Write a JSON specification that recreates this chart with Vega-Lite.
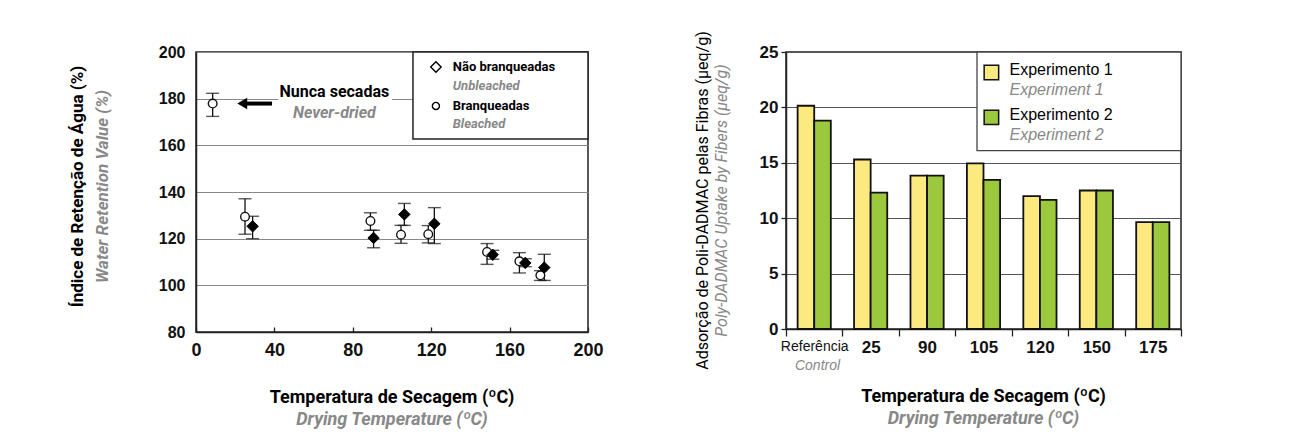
{
  "$schema": "https://vega.github.io/schema/vega-lite/v6.json",
  "padding": {"left": 68, "top": 31, "right": 5, "bottom": 5},
  "background": "white",
  "spacing": 91,
  "config": {
    "view": {"stroke": "#222", "strokeWidth": 1.5},
    "axis": {"domainColor": "#222", "domainWidth": 1.5, "tickColor": "#222", "tickWidth": 1.3, "labelFont": "Liberation Sans", "labelFontWeight": "bold", "labelColor": "#111", "gridColor": "#888", "gridWidth": 1.2},
    "text": {"font": "Roboto"}
  },
  "datasets": {
    "wrv": [
      {"tipo": "Branqueadas", "temp": 8.5, "value": 177.9, "lo": 172.4, "hi": 182.3},
      {"tipo": "Branqueadas", "temp": 25, "value": 129.4, "lo": 121.9, "hi": 137.1},
      {"tipo": "Branqueadas", "temp": 89, "value": 127.6, "lo": 123.6, "hi": 131.1},
      {"tipo": "Branqueadas", "temp": 104.6, "value": 121.7, "lo": 118.0, "hi": 125.7},
      {"tipo": "Branqueadas", "temp": 118.5, "value": 121.9, "lo": 118.2, "hi": 125.6},
      {"tipo": "Branqueadas", "temp": 148.5, "value": 114.3, "lo": 109.0, "hi": 117.9},
      {"tipo": "Branqueadas", "temp": 165, "value": 110.3, "lo": 105.3, "hi": 114.0},
      {"tipo": "Branqueadas", "temp": 175.7, "value": 104.3, "lo": 102.1, "hi": 106.3},
      {"tipo": "Não branqueadas", "temp": 28.9, "value": 125.3, "lo": 120.0, "hi": 129.6},
      {"tipo": "Não branqueadas", "temp": 90.6, "value": 120.3, "lo": 116.1, "hi": 123.6},
      {"tipo": "Não branqueadas", "temp": 106.3, "value": 130.4, "lo": 125.7, "hi": 135.1},
      {"tipo": "Não branqueadas", "temp": 121.6, "value": 126.4, "lo": 117.9, "hi": 133.3},
      {"tipo": "Não branqueadas", "temp": 151.4, "value": 113.1, "lo": 111.2, "hi": 115.0},
      {"tipo": "Não branqueadas", "temp": 168, "value": 109.6, "lo": 108.0, "hi": 111.4},
      {"tipo": "Não branqueadas", "temp": 177.7, "value": 107.6, "lo": 102.1, "hi": 113.3}
    ],
    "pdadmac": [
      {"temp": "Referência", "exp": "Experimento 1", "value": 20.15},
      {"temp": "Referência", "exp": "Experimento 2", "value": 18.8},
      {"temp": "25", "exp": "Experimento 1", "value": 15.3},
      {"temp": "25", "exp": "Experimento 2", "value": 12.3},
      {"temp": "90", "exp": "Experimento 1", "value": 13.85},
      {"temp": "90", "exp": "Experimento 2", "value": 13.85},
      {"temp": "105", "exp": "Experimento 1", "value": 14.95},
      {"temp": "105", "exp": "Experimento 2", "value": 13.45},
      {"temp": "120", "exp": "Experimento 1", "value": 12.0},
      {"temp": "120", "exp": "Experimento 2", "value": 11.65},
      {"temp": "150", "exp": "Experimento 1", "value": 12.5},
      {"temp": "150", "exp": "Experimento 2", "value": 12.5},
      {"temp": "175", "exp": "Experimento 1", "value": 9.65},
      {"temp": "175", "exp": "Experimento 2", "value": 9.65}
    ]
  },
  "hconcat": [
    {
      "title": {"text": "Índice de Retenção de Água (%)", "subtitle": "Water Retention Value (%)", "orient": "left", "anchor": "middle", "frame": "bounds", "dx": 50, "font": "Roboto", "fontSize": 17, "fontWeight": "bold", "color": "#000", "subtitleFont": "Roboto", "subtitleFontSize": 17, "subtitleFontWeight": "bold", "subtitleFontStyle": "italic", "subtitleColor": "#888", "subtitlePadding": 8, "offset": 46},
      "vconcat": [
        {
          "title": {"text": "Temperatura de Secagem (ºC)", "subtitle": "Drying Temperature (ºC)", "orient": "bottom", "anchor": "middle", "frame": "group", "font": "Roboto", "fontSize": 18, "fontWeight": "bold", "color": "#000", "subtitleFont": "Roboto", "subtitleFontSize": 18, "subtitleFontWeight": "bold", "subtitleFontStyle": "italic", "subtitleColor": "#888", "subtitlePadding": 4, "offset": 30},
          "width": 392,
          "height": 280,
          "layer": [
            {
              "data": {"values": [{}]},
              "mark": {"type": "rect", "fill": "white"},
              "encoding": {
                "x": {"datum": 42, "type": "quantitative"}, "x2": {"datum": 100},
                "y": {"datum": 186, "type": "quantitative"}, "y2": {"datum": 170}
              }
            },
            {
              "data": {"values": [{}]},
              "mark": {"type": "rect", "fill": "white", "stroke": "#222", "strokeWidth": 1.5},
              "encoding": {
                "x": {"datum": 110.7, "type": "quantitative"}, "x2": {"datum": 200},
                "y": {"datum": 200, "type": "quantitative"}, "y2": {"datum": 162.7}
              }
            },
            {
              "data": {"name": "wrv"},
              "mark": {"type": "rule", "color": "#111", "strokeWidth": 1.3},
              "encoding": {
                "x": {"field": "temp", "type": "quantitative", "scale": {"domain": [0, 200], "nice": false, "zero": false},
                  "axis": {"values": [0, 20, 40, 60, 80, 100, 120, 140, 160, 180, 200], "labelExpr": "datum.value % 40 == 0 ? datum.label : ''", "tickSize": -5, "labelPadding": 14, "labelFontSize": 18, "grid": false, "title": null, "labelFlush": false}},
                "y": {"field": "lo", "type": "quantitative", "scale": {"domain": [80, 200], "nice": false, "zero": false},
                  "axis": {"values": [80, 100, 120, 140, 160, 180, 200], "ticks": false, "labelPadding": 11, "labelFontSize": 16, "grid": true, "gridColor": "#888", "title": null}},
                "y2": {"field": "hi"}
              }
            },
            {
              "data": {"name": "wrv"},
              "mark": {"type": "tick", "orient": "horizontal", "color": "#111", "size": 13, "thickness": 1.4},
              "encoding": {
                "x": {"field": "temp", "type": "quantitative"},
                "y": {"field": "lo", "type": "quantitative"}
              }
            },
            {
              "data": {"name": "wrv"},
              "mark": {"type": "tick", "orient": "horizontal", "color": "#111", "size": 13, "thickness": 1.4},
              "encoding": {
                "x": {"field": "temp", "type": "quantitative"},
                "y": {"field": "hi", "type": "quantitative"}
              }
            },
            {
              "data": {"name": "wrv"},
              "transform": [{"filter": "datum.tipo == 'Branqueadas'"}],
              "mark": {"type": "point", "shape": "circle", "filled": true, "fill": "white", "stroke": "#111", "strokeWidth": 1.4, "size": 75, "opacity": 1},
              "encoding": {
                "x": {"field": "temp", "type": "quantitative"},
                "y": {"field": "value", "type": "quantitative"}
              }
            },
            {
              "data": {"name": "wrv"},
              "transform": [{"filter": "datum.tipo == 'Não branqueadas'"}],
              "mark": {"type": "point", "shape": "diamond", "filled": true, "fill": "#000", "stroke": "#000", "strokeWidth": 1, "size": 130, "opacity": 1},
              "encoding": {
                "x": {"field": "temp", "type": "quantitative"},
                "y": {"field": "value", "type": "quantitative"}
              }
            },
            {
              "data": {"values": [{}]},
              "mark": {"type": "rule", "color": "#000", "strokeWidth": 4},
              "encoding": {
                "x": {"datum": 26, "type": "quantitative"}, "x2": {"datum": 38.8},
                "y": {"datum": 177.9, "type": "quantitative"}
              }
            },
            {
              "data": {"values": [{}]},
              "mark": {"type": "point", "shape": "triangle-left", "filled": true, "fill": "#000", "size": 130, "opacity": 1},
              "encoding": {
                "x": {"datum": 23.6, "type": "quantitative"},
                "y": {"datum": 177.9, "type": "quantitative"}
              }
            },
            {
              "data": {"values": [{}]},
              "mark": {"type": "text", "font": "Roboto", "fontSize": 16, "fontWeight": "bold", "color": "#000", "align": "center", "baseline": "middle"},
              "encoding": {
                "x": {"datum": 70.6, "type": "quantitative"},
                "y": {"datum": 182.9, "type": "quantitative"},
                "text": {"value": "Nunca secadas"}
              }
            },
            {
              "data": {"values": [{}]},
              "mark": {"type": "text", "font": "Roboto", "fontSize": 16, "fontWeight": "bold", "fontStyle": "italic", "color": "#888", "align": "center", "baseline": "middle"},
              "encoding": {
                "x": {"datum": 70.6, "type": "quantitative"},
                "y": {"datum": 173.9, "type": "quantitative"},
                "text": {"value": "Never-dried"}
              }
            },
            {
              "data": {"values": [{}]},
              "mark": {"type": "point", "shape": "diamond", "filled": true, "fill": "white", "stroke": "#000", "strokeWidth": 1.4, "size": 110, "opacity": 1},
              "encoding": {
                "x": {"datum": 122.4, "type": "quantitative"},
                "y": {"datum": 193.6, "type": "quantitative"}
              }
            },
            {
              "data": {"values": [{}]},
              "mark": {"type": "point", "shape": "circle", "filled": true, "fill": "white", "stroke": "#000", "strokeWidth": 1.4, "size": 50, "opacity": 1},
              "encoding": {
                "x": {"datum": 122.4, "type": "quantitative"},
                "y": {"datum": 176.9, "type": "quantitative"}
              }
            },
            {
              "data": {"values": [{}]},
              "mark": {"type": "text", "font": "Roboto", "fontSize": 13, "fontWeight": "bold", "color": "#000", "align": "left", "baseline": "middle"},
              "encoding": {
                "x": {"datum": 131, "type": "quantitative"},
                "y": {"datum": 193.6, "type": "quantitative"},
                "text": {"value": "Não branqueadas"}
              }
            },
            {
              "data": {"values": [{}]},
              "mark": {"type": "text", "font": "Roboto", "fontSize": 13, "fontWeight": "bold", "fontStyle": "italic", "color": "#888", "align": "left", "baseline": "middle"},
              "encoding": {
                "x": {"datum": 131, "type": "quantitative"},
                "y": {"datum": 185.3, "type": "quantitative"},
                "text": {"value": "Unbleached"}
              }
            },
            {
              "data": {"values": [{}]},
              "mark": {"type": "text", "font": "Roboto", "fontSize": 13, "fontWeight": "bold", "color": "#000", "align": "left", "baseline": "middle"},
              "encoding": {
                "x": {"datum": 131, "type": "quantitative"},
                "y": {"datum": 176.9, "type": "quantitative"},
                "text": {"value": "Branqueadas"}
              }
            },
            {
              "data": {"values": [{}]},
              "mark": {"type": "text", "font": "Roboto", "fontSize": 13, "fontWeight": "bold", "fontStyle": "italic", "color": "#888", "align": "left", "baseline": "middle"},
              "encoding": {
                "x": {"datum": 131, "type": "quantitative"},
                "y": {"datum": 169.3, "type": "quantitative"},
                "text": {"value": "Bleached"}
              }
            }
          ]
        }
      ]
    },
    {
      "title": {"text": "Adsorção de Poli-DADMAC pelas Fibras (µeq/g)", "subtitle": "Poly-DADMAC Uptake by Fibers (µeq/g)", "orient": "left", "anchor": "middle", "frame": "bounds", "dx": 35, "font": "Roboto", "fontSize": 16, "fontWeight": "normal", "color": "#000", "subtitleFont": "Roboto", "subtitleFontSize": 16, "subtitleFontWeight": "normal", "subtitleFontStyle": "italic", "subtitleColor": "#888", "subtitlePadding": 3, "offset": 28},
      "vconcat": [
        {
          "title": {"text": "Temperatura de Secagem (ºC)", "subtitle": "Drying Temperature (ºC)", "orient": "bottom", "anchor": "middle", "frame": "group", "font": "Roboto", "fontSize": 18, "fontWeight": "bold", "color": "#000", "subtitleFont": "Roboto", "subtitleFontSize": 18, "subtitleFontWeight": "bold", "subtitleFontStyle": "italic", "subtitleColor": "#888", "subtitlePadding": 4, "offset": 16},
          "width": 395,
          "height": 277,
          "resolve": {"scale": {"x": "independent"}},
          "layer": [
            {
              "data": {"name": "pdadmac"},
              "mark": {"type": "bar", "stroke": "#111", "strokeWidth": 1.8},
              "encoding": {
                "x": {"field": "temp", "type": "nominal", "sort": ["Referência", "25", "90", "105", "120", "150", "175"],
                  "scale": {"paddingInner": 0, "paddingOuter": 0},
                  "axis": {"tickBand": "extent", "tickSize": 7, "labelAngle": 0, "labelPadding": 3, "title": null, "grid": false,
                    "labelFontSize": {"condition": {"test": "datum.value === 'Referência'", "value": 14}, "value": 17},
                    "labelFontWeight": {"condition": {"test": "datum.value === 'Referência'", "value": "normal"}, "value": "bold"}}},
                "xOffset": {"field": "exp", "type": "nominal", "scale": {"paddingInner": 0, "paddingOuter": 0.7}},
                "y": {"field": "value", "type": "quantitative", "scale": {"domain": [0, 25], "nice": false},
                  "axis": {"values": [0, 5, 10, 15, 20, 25], "tickSize": 5, "labelPadding": 3, "labelFontSize": 17, "grid": true, "gridColor": "#555", "title": null}},
                "fill": {"field": "exp", "type": "nominal", "scale": {"domain": ["Experimento 1", "Experimento 2"], "range": ["#FCEA81", "#9BC83C"]}, "legend": null}
              }
            },
            {
              "data": {"values": [{}]},
              "layer": [
                {
                  "mark": {"type": "rect", "fill": "white", "stroke": "#444", "strokeWidth": 1.3},
                  "encoding": {
                    "x": {"datum": 3.385, "type": "quantitative", "scale": {"domain": [0, 7], "nice": false, "zero": false},
                      "axis": {"orient": "bottom", "values": [0.55], "labelExpr": "'Control'", "domain": false, "ticks": false, "tickSize": 0, "grid": false, "labelPadding": 29, "labelFont": "Liberation Sans", "labelFontSize": 14, "labelFontWeight": "normal", "labelFontStyle": "italic", "labelColor": "#888", "title": null}},
                    "x2": {"datum": 7},
                    "y": {"datum": 25, "type": "quantitative"}, "y2": {"datum": 16.1}
                  }
                },
                {
                  "mark": {"type": "point", "shape": "square", "filled": true, "fill": "#FCEA81", "stroke": "#111", "strokeWidth": 1.5, "size": 210, "opacity": 1},
                  "encoding": {
                    "x": {"datum": 3.64, "type": "quantitative"},
                    "y": {"datum": 23.15, "type": "quantitative"}
                  }
                },
                {
                  "mark": {"type": "point", "shape": "square", "filled": true, "fill": "#9BC83C", "stroke": "#111", "strokeWidth": 1.5, "size": 210, "opacity": 1},
                  "encoding": {
                    "x": {"datum": 3.64, "type": "quantitative"},
                    "y": {"datum": 19.1, "type": "quantitative"}
                  }
                },
                {
                  "mark": {"type": "text", "font": "Liberation Sans", "fontSize": 16, "color": "#000", "align": "left", "baseline": "middle"},
                  "encoding": {
                    "x": {"datum": 3.96, "type": "quantitative"},
                    "y": {"datum": 23.4, "type": "quantitative"},
                    "text": {"value": "Experimento 1"}
                  }
                },
                {
                  "mark": {"type": "text", "font": "Liberation Sans", "fontSize": 16, "fontStyle": "italic", "color": "#888", "align": "left", "baseline": "middle"},
                  "encoding": {
                    "x": {"datum": 3.96, "type": "quantitative"},
                    "y": {"datum": 21.6, "type": "quantitative"},
                    "text": {"value": "Experiment 1"}
                  }
                },
                {
                  "mark": {"type": "text", "font": "Liberation Sans", "fontSize": 16, "color": "#000", "align": "left", "baseline": "middle"},
                  "encoding": {
                    "x": {"datum": 3.96, "type": "quantitative"},
                    "y": {"datum": 19.27, "type": "quantitative"},
                    "text": {"value": "Experimento 2"}
                  }
                },
                {
                  "mark": {"type": "text", "font": "Liberation Sans", "fontSize": 16, "fontStyle": "italic", "color": "#888", "align": "left", "baseline": "middle"},
                  "encoding": {
                    "x": {"datum": 3.96, "type": "quantitative"},
                    "y": {"datum": 17.5, "type": "quantitative"},
                    "text": {"value": "Experiment 2"}
                  }
                }
              ]
            }
          ]
        }
      ]
    }
  ]
}
